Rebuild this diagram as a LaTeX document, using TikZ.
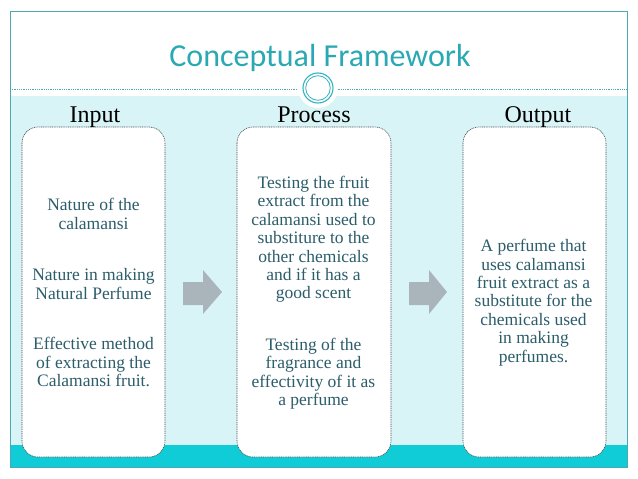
\documentclass[tikz,border=0pt]{standalone}
\usepackage{fontspec}
\setmainfont{Liberation Serif}
\newfontfamily\titlefont{Carlito}
\usetikzlibrary{calc}
\definecolor{frameteal}{HTML}{4AAAB3}
\definecolor{titleteal}{HTML}{2AA8B3}
\definecolor{lightband}{HTML}{D9F4F7}
\definecolor{darkband}{HTML}{10CCD6}
\definecolor{bodytext}{HTML}{2C5D6B}
\definecolor{arrowgray}{HTML}{AAB5BB}
\definecolor{ringteal}{HTML}{33B3BD}
\definecolor{boxborder}{HTML}{3C4A50}
\tikzset{
  colbox/.style={draw=boxborder, line width=0.6pt, dash pattern=on 1pt off 0.8pt,
    fill=white, rounded corners=16pt},
  heading/.style={font=\fontsize{24}{26}\selectfont, text=black, anchor=base, inner sep=0pt},
  bodytxt/.style={font=\fontsize{17.5}{18.4}\selectfont, text=bodytext, align=center, inner sep=0pt},
  flowarrow/.style={fill=arrowgray, draw=none},
}
\begin{document}
\begin{tikzpicture}[x=1pt,y=-1pt]
\useasboundingbox (0,0) rectangle (638,479);
\fill[white] (0,0) rectangle (638,479);
% bands
\fill[lightband] (10,96) rectangle (627,445);
\fill[darkband] (10,445) rectangle (627,467);
% header line
\draw[frameteal, line width=0.6pt, dash pattern=on 1pt off 0.8pt] (10,89) -- (627,89);
% circle ornament
\fill[white] (318,88) circle (20);
\draw[ringteal, line width=1.1pt] (318,88) circle (15);
\draw[ringteal, line width=0.8pt] (318,88) circle (12.3);
% frame
\draw[frameteal, line width=0.8pt] (10,11) rectangle (627,467);
% title
\node[font=\titlefont\fontsize{32}{34}\selectfont, text=titleteal, anchor=base, inner sep=0pt] (title) at (320,66) {Conceptual Framework};
% boxes
\draw[colbox] (22,127) rectangle (165,457);
\draw[colbox] (237,127) rectangle (391,457);
\draw[colbox] (463,127) rectangle (606,457);
% headings
\node[heading] (hin) at (95,122) {Input};
\node[heading] (hproc) at (314,122) {Process};
\node[heading] (hout) at (538,122) {Output};
% texts
\node[bodytxt] (in1) at (93.5,214) {Nature of the\\calamansi};
\node[bodytxt] (in2) at (93.5,284) {Nature in making\\Natural Perfume};
\node[bodytxt] (in3) at (93.5,362) {Effective method\\of extracting the\\Calamansi fruit.};
\node[bodytxt] (pr1) at (313.5,239.5) {Testing the fruit\\extract from the\\calamansi used to\\substiture to the\\other chemicals\\and if it has a\\good scent};
\node[bodytxt] (pr2) at (313.5,373.5) {Testing of the\\fragrance and\\effectivity of it as\\a perfume};
\node[bodytxt] (ou1) at (533.5,302.5) {A perfume that\\uses calamansi\\fruit extract as a\\substitute for the\\chemicals used\\in making\\perfumes.};
% arrows
\fill[flowarrow] (183,282) -- (203,282) -- (203,270) -- (222,292) -- (203,314) -- (203,305) -- (183,305) -- cycle;
\fill[flowarrow] (409,282) -- (429,282) -- (429,270) -- (447,292) -- (429,314) -- (429,305) -- (409,305) -- cycle;
\end{tikzpicture}
\end{document}
